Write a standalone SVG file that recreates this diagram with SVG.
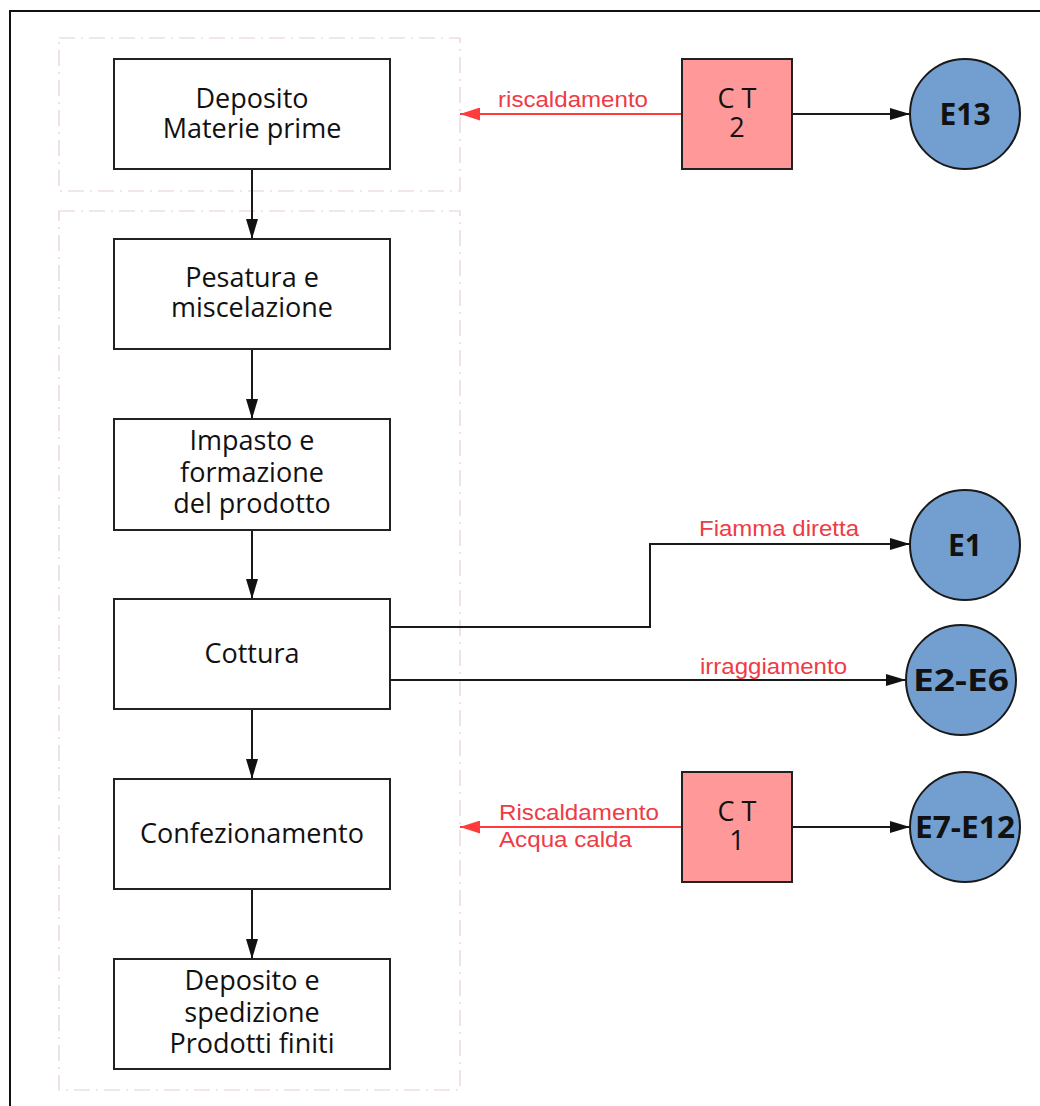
<svg xmlns="http://www.w3.org/2000/svg" width="1040" height="1106" viewBox="0 0 1040 1106">
<defs>
<style>
.grp{fill:none;stroke:#e3cfd3;stroke-width:1.2;stroke-dasharray:16 6 2 6}
.box{fill:#fff;stroke:#222;stroke-width:2}
.ct{fill:#ff9999;stroke:#222;stroke-width:2}
.em{fill:#729fcf;stroke:#1a1a1a;stroke-width:2}
.bt{font-family:"Open Sans","Noto Sans",sans-serif;font-size:27px;fill:#111;text-anchor:middle}
.et{font-family:"Open Sans","Noto Sans",sans-serif;font-size:30px;font-weight:bold;fill:#111;text-anchor:middle}
.rl{font-family:"Liberation Sans",Arial,sans-serif;font-size:22px;fill:#ee3b45}
.k{fill:none;stroke:#1a1a1a;stroke-width:2}
.r{fill:none;stroke:#ff3b3b;stroke-width:2}
</style>
<marker id="ab" viewBox="0 0 20 12" refX="20" refY="6" markerWidth="20" markerHeight="12" orient="auto" markerUnits="userSpaceOnUse"><path d="M0,0 L20,6 L0,12 z" fill="#111"/></marker>
<marker id="ar" viewBox="0 0 20 13" refX="20" refY="6.5" markerWidth="20" markerHeight="13" orient="auto" markerUnits="userSpaceOnUse"><path d="M0,0 L20,6.5 L0,13 z" fill="#ff3b3b"/></marker>
</defs>
<rect x="0" y="0" width="1040" height="1106" fill="#fff"/>
<rect x="10" y="11" width="1060" height="1120" fill="none" stroke="#111" stroke-width="2"/>
<g id="groups">
<rect class="grp" x="59" y="38" width="401" height="153"/>
<rect class="grp" x="59" y="211" width="401" height="879"/>
</g>
<g id="connectors">
<path class="k" d="M252,169 V239" marker-end="url(#ab)"/>
<path class="k" d="M252,349 V419" marker-end="url(#ab)"/>
<path class="k" d="M252,530 V599" marker-end="url(#ab)"/>
<path class="k" d="M252,709 V779" marker-end="url(#ab)"/>
<path class="k" d="M252,889 V959" marker-end="url(#ab)"/>
<path class="r" d="M682,114 H460" marker-end="url(#ar)"/>
<path class="k" d="M792,114 H910" marker-end="url(#ab)"/>
<path class="k" d="M390,627 H650 V544 H910" marker-end="url(#ab)"/>
<path class="k" d="M390,680 H906" marker-end="url(#ab)"/>
<path class="r" d="M682,827 H460" marker-end="url(#ar)"/>
<path class="k" d="M792,827 H910" marker-end="url(#ab)"/>
<text class="rl" x="498" y="107" textLength="150" lengthAdjust="spacingAndGlyphs">riscaldamento</text>
<text class="rl" x="699" y="536" textLength="160" lengthAdjust="spacingAndGlyphs">Fiamma diretta</text>
<text class="rl" x="700" y="674" textLength="147" lengthAdjust="spacingAndGlyphs">irraggiamento</text>
<text class="rl"><tspan x="499" y="820" textLength="160" lengthAdjust="spacingAndGlyphs">Riscaldamento</tspan><tspan x="499" y="847" textLength="133" lengthAdjust="spacingAndGlyphs">Acqua calda</tspan></text>
</g>
<g id="n-deposito-mp">
<rect class="box" x="114" y="59" width="276" height="110"/>
<text class="bt"><tspan x="252" y="108">Deposito</tspan><tspan x="252" y="138">Materie prime</tspan></text>
</g>
<g id="n-pesatura">
<rect class="box" x="114" y="239" width="276" height="110"/>
<text class="bt"><tspan x="252" y="287">Pesatura e</tspan><tspan x="252" y="317">miscelazione</tspan></text>
</g>
<g id="n-impasto">
<rect class="box" x="114" y="419" width="276" height="111"/>
<text class="bt"><tspan x="252" y="450">Impasto e</tspan><tspan x="252" y="482">formazione</tspan><tspan x="252" y="513">del prodotto</tspan></text>
</g>
<g id="n-cottura">
<rect class="box" x="114" y="599" width="276" height="110"/>
<text class="bt" x="252" y="663">Cottura</text>
</g>
<g id="n-confezionamento">
<rect class="box" x="114" y="779" width="276" height="110"/>
<text class="bt" x="252" y="843">Confezionamento</text>
</g>
<g id="n-deposito-pf">
<rect class="box" x="114" y="959" width="276" height="110"/>
<text class="bt"><tspan x="252" y="990">Deposito e</tspan><tspan x="252" y="1022">spedizione</tspan><tspan x="252" y="1053">Prodotti finiti</tspan></text>
</g>
<g id="n-ct2">
<rect class="ct" x="682" y="59" width="110" height="110"/>
<text class="bt"><tspan x="737" y="108">C T</tspan><tspan x="737" y="137">2</tspan></text>
</g>
<g id="n-ct1">
<rect class="ct" x="682" y="772" width="110" height="110"/>
<text class="bt"><tspan x="737" y="821">C T</tspan><tspan x="737" y="850">1</tspan></text>
</g>
<g id="n-e13">
<circle class="em" cx="965" cy="114" r="55"/>
<text class="et" x="965" y="125">E13</text>
</g>
<g id="n-e1">
<circle class="em" cx="965" cy="545" r="55"/>
<text class="et" x="965" y="556">E1</text>
</g>
<g id="n-e2e6">
<circle class="em" cx="961" cy="680" r="55"/>
<text class="et" x="961" y="691" textLength="96" lengthAdjust="spacingAndGlyphs">E2-E6</text>
</g>
<g id="n-e7e12">
<circle class="em" cx="965" cy="827" r="55"/>
<text class="et" x="965" y="838" textLength="100" lengthAdjust="spacingAndGlyphs">E7-E12</text>
</g>
</svg>
